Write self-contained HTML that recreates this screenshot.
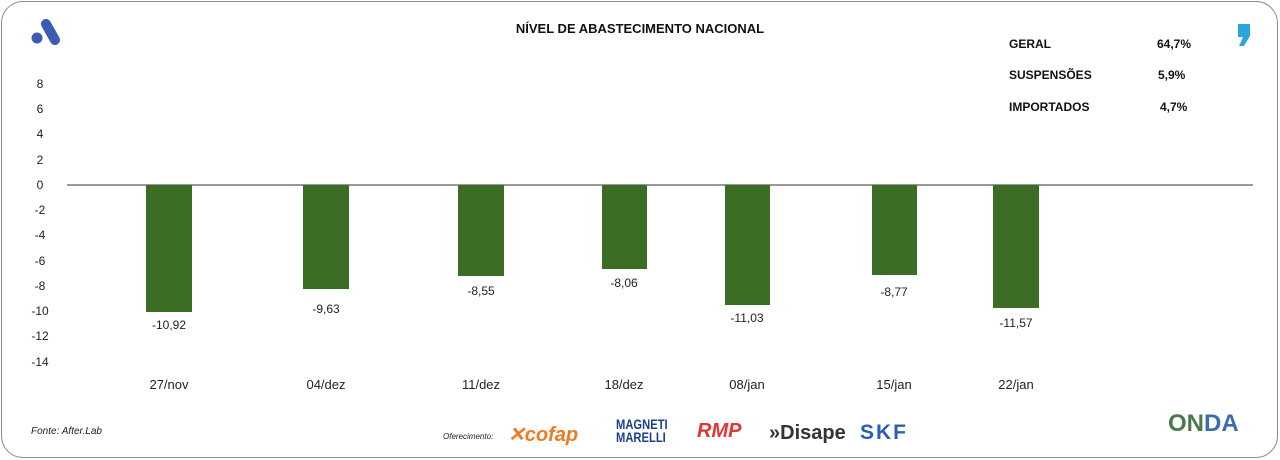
<!DOCTYPE html>
<html><head><meta charset="utf-8"><style>
body{margin:0;width:1280px;height:460px;background:#fff;font-family:"Liberation Sans",sans-serif;overflow:hidden;position:relative}
.frame{position:absolute;left:1px;top:1px;width:1275px;height:455px;border:1.5px solid #8a8a8a;border-radius:22px}
.t{position:absolute;font-size:12px;color:#222;white-space:nowrap}
.yl{position:absolute;left:30px;width:20px;text-align:center;font-size:12px;color:#222}
.bar{position:absolute;top:185px;background:#3b6e24}
.c{transform:translateX(-50%)}
.b{font-weight:bold;font-size:12px;color:#111}
</style></head><body>
<div class="frame"></div>
<svg style="position:absolute;left:30px;top:18px" width="34" height="30"><line x1="16" y1="6" x2="25" y2="22" stroke="#3b5cb0" stroke-width="10" stroke-linecap="round"/><circle cx="7" cy="20" r="5.5" fill="#3b5cb0"/></svg>
<svg style="position:absolute;left:1236px;top:24px" width="18" height="24"><path d="M2 0H14V12L8 22H3L7 13H2Z" fill="#2aa4dc"/></svg>
<div class="t b c" style="left:640px;top:21px;font-size:13px">NÍVEL DE ABASTECIMENTO NACIONAL</div>
<div class="t b" style="left:1009px;top:37px">GERAL</div><div class="t b" style="left:1157px;top:37px">64,7%</div>
<div class="t b" style="left:1009px;top:68px">SUSPENSÕES</div><div class="t b" style="left:1158px;top:68px">5,9%</div>
<div class="t b" style="left:1009px;top:100px">IMPORTADOS</div><div class="t b" style="left:1160px;top:100px">4,7%</div>
<div class="yl" style="top:77px">8</div><div class="yl" style="top:102px">6</div><div class="yl" style="top:127px">4</div><div class="yl" style="top:153px">2</div><div class="yl" style="top:178px">0</div><div class="yl" style="top:203px">-2</div><div class="yl" style="top:228px">-4</div><div class="yl" style="top:254px">-6</div><div class="yl" style="top:279px">-8</div><div class="yl" style="top:304px">-10</div><div class="yl" style="top:329px">-12</div><div class="yl" style="top:355px">-14</div>
<div style="position:absolute;left:67px;top:184px;width:1186px;height:2px;background:#999"></div>
<div class="bar" style="left:146px;width:46px;height:127px"></div>
<div class="bar" style="left:303px;width:46px;height:104px"></div>
<div class="bar" style="left:458px;width:46px;height:91px"></div>
<div class="bar" style="left:602px;width:45px;height:84px"></div>
<div class="bar" style="left:725px;width:45px;height:120px"></div>
<div class="bar" style="left:872px;width:45px;height:90px"></div>
<div class="bar" style="left:993px;width:46px;height:123px"></div>
<div class="t c" style="left:169px;top:318px">-10,92</div>
<div class="t c" style="left:326px;top:302px">-9,63</div>
<div class="t c" style="left:481px;top:284px">-8,55</div>
<div class="t c" style="left:624px;top:276px">-8,06</div>
<div class="t c" style="left:747px;top:311px">-11,03</div>
<div class="t c" style="left:894px;top:285px">-8,77</div>
<div class="t c" style="left:1016px;top:316px">-11,57</div>
<div class="t c" style="left:169px;top:377px;font-size:13px">27/nov</div>
<div class="t c" style="left:326px;top:377px;font-size:13px">04/dez</div>
<div class="t c" style="left:481px;top:377px;font-size:13px">11/dez</div>
<div class="t c" style="left:624px;top:377px;font-size:13px">18/dez</div>
<div class="t c" style="left:747px;top:377px;font-size:13px">08/jan</div>
<div class="t c" style="left:894px;top:377px;font-size:13px">15/jan</div>
<div class="t c" style="left:1016px;top:377px;font-size:13px">22/jan</div>
<div class="t" style="left:31px;top:426px;font-size:10px;font-style:italic">Fonte: After.Lab</div>
<div class="t" style="left:443px;top:432px;font-size:8px;font-style:italic">Oferecimento:</div>
<div class="t" style="left:508px;top:422px;font-size:20px;font-weight:bold;font-style:italic;color:#f07a22">✕cofap</div>
<div class="t" style="left:616px;top:418px;font-size:14px;font-weight:bold;color:#1c3f8c;line-height:13px;transform:scaleX(0.8);transform-origin:left">MAGNETI<br>MARELLI</div>
<div class="t" style="left:697px;top:420px;font-size:20px;font-weight:bold;font-style:italic;color:#e33535">RMP</div>
<div class="t" style="left:769px;top:422px;font-size:20px;font-weight:bold;color:#333">»Disape</div>
<div class="t" style="left:860px;top:421px;font-size:21px;font-weight:bold;color:#2a5fb8;letter-spacing:2px">SKF</div>
<div class="t" style="left:1168px;top:410px;font-size:24px;font-weight:bold;color:#4a7a4a">ON<span style="color:#3a6db0">DA</span></div>
</body></html>
